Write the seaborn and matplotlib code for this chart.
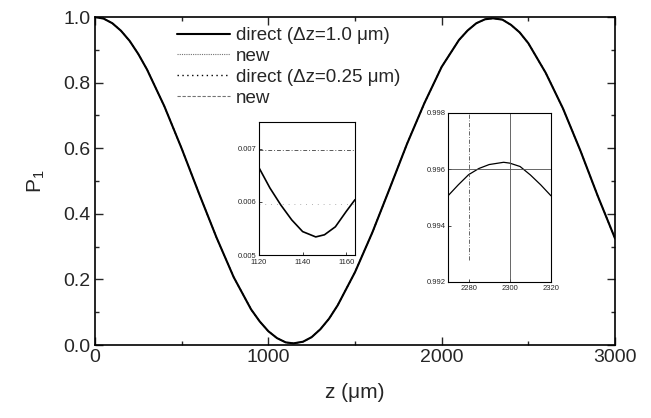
import matplotlib
matplotlib.use("Agg")
import matplotlib.pyplot as plt
import seaborn as sns
import pandas as pd

# ---- data ----
z_main = [0, 50, 100, 150, 200, 250, 300, 400, 500, 600, 700, 800, 900, 950,
          1000, 1050, 1100, 1145, 1200, 1250, 1300, 1350, 1400, 1500, 1600,
          1700, 1800, 1900, 2000, 2100, 2150, 2200, 2250, 2296, 2350, 2400,
          2450, 2500, 2600, 2700, 2800, 2900, 3000]
p_main = [1.000, 0.995, 0.981, 0.958, 0.927, 0.887, 0.840, 0.728, 0.599, 0.462,
          0.329, 0.207, 0.109, 0.072, 0.042, 0.021, 0.008, 0.005, 0.010, 0.024,
          0.048, 0.080, 0.121, 0.222, 0.343, 0.477, 0.613, 0.737, 0.848, 0.930,
          0.959, 0.981, 0.993, 0.996, 0.992, 0.976, 0.953, 0.920, 0.830, 0.721,
          0.593, 0.455, 0.325]

series_labels = ["direct (\u0394z=1.0 \u03bcm)", "new",
                 "direct (\u0394z=0.25 \u03bcm)", "new"]

# inset 1 (minimum region)
z_in1 = [1120, 1125, 1130, 1135, 1140, 1146, 1150, 1155, 1160, 1164]
p_in1 = [0.00664, 0.00626, 0.00594, 0.00566, 0.00544, 0.00534, 0.00538,
         0.00553, 0.00582, 0.00604]
in1_dashdot_level = 0.00698
in1_dotted_level = 0.00596
in1_xticks = [1120, 1140, 1160]
in1_yticks = [0.005, 0.006, 0.007]

# inset 2 (maximum region)
z_in2 = [2270, 2275, 2280, 2285, 2290, 2297, 2300, 2305, 2310, 2315, 2320]
p_in2 = [0.99506, 0.99545, 0.99581, 0.99603, 0.99617, 0.99625, 0.99622,
         0.99610, 0.99580, 0.99545, 0.99506]
in2_hline_level = 0.996
in2_vline_dashdot = 2280
in2_vline_solid = 2300
in2_xticks = [2280, 2300, 2320]
in2_yticks = [0.992, 0.994, 0.996, 0.998]

# ---- styling ----
sns.set_style("ticks")
plt.rcParams["font.family"] = ["Liberation Sans", "DejaVu Sans"]
plt.rcParams["mathtext.default"] = "regular"

fig = plt.figure(figsize=(6.51, 4.18), dpi=100)
W, H = 651, 418
ax = fig.add_axes([95 / W, 1 - 345 / H, 520 / W, 328 / H])

df_main = pd.DataFrame({"z": z_main, "P": p_main})
styles = [dict(color="black", lw=1.5, ls="-", z=5),
          dict(color="0.45", lw=0.8, ls=(0, (1, 1)), z=3),
          dict(color="black", lw=1.0, ls=(0, (1, 2.5)), z=3),
          dict(color="0.45", lw=0.8, ls=(0, (3, 1.5)), z=3)]
for lab, st in zip(series_labels, styles):
    sns.lineplot(data=df_main, x="z", y="P", ax=ax, label=lab,
                 color=st["color"], linewidth=st["lw"], linestyle=st["ls"],
                 zorder=st["z"])

ax.set_xlim(0, 3000)
ax.set_ylim(0, 1.0)
ax.set_xticks([0, 1000, 2000, 3000])
ax.set_xticks([500, 1500, 2500], minor=True)
ax.set_yticks([0.0, 0.2, 0.4, 0.6, 0.8, 1.0])
ax.set_yticks([0.1, 0.3, 0.5, 0.7, 0.9], minor=True)
ax.set_yticklabels(["0.0", "0.2", "0.4", "0.6", "0.8", "1.0"])
ax.tick_params(which="both", direction="in", top=True, right=True,
               labelsize=14, width=1.0)
ax.tick_params(which="major", length=6, pad=3)
ax.tick_params(which="minor", length=3)
for s in ax.spines.values():
    s.set_linewidth(1.2)
    s.set_color("black")
ax.set_xlabel("z (\u03bcm)", fontsize=15, labelpad=12)
ax.set_ylabel("$P_1$", fontsize=15, labelpad=12)

leg = ax.legend(loc="upper left", bbox_to_anchor=(177 / W, 1 - 27 / H),
                bbox_transform=fig.transFigure, frameon=False, fontsize=13.5,
                handlelength=2.8, handletextpad=0.35, labelspacing=0.2,
                borderpad=0, borderaxespad=0)

small_font = ["Liberation Sans Narrow", "Liberation Sans", "DejaVu Sans"]

def style_inset(a, fs):
    a.tick_params(which="both", direction="in", labelsize=fs, length=2.5,
                  width=0.6, pad=1.5)
    a.tick_params(axis="x", pad=2)
    for s in a.spines.values():
        s.set_linewidth(0.8)
        s.set_color("black")
    for t in a.get_xticklabels() + a.get_yticklabels():
        t.set_family(small_font)
    a.set_xlabel("")
    a.set_ylabel("")
    a.set_facecolor("white")

# inset 1
ax1 = fig.add_axes([259 / W, 1 - 255 / H, 96 / W, 133 / H])
sns.lineplot(x=z_in1, y=p_in1, ax=ax1, color="black", linewidth=1.2)
ax1.axhline(in1_dashdot_level, color="0.35", lw=0.7, ls=(0, (4, 2, 1, 2)))
ax1.axhline(in1_dotted_level, color="0.6", lw=0.6, ls=(0, (1, 6)))
ax1.set_xlim(1120, 1164)
ax1.set_ylim(0.005, 0.0075)
ax1.set_xticks(in1_xticks)
ax1.set_yticks(in1_yticks)
ax1.set_xticklabels([str(v) for v in in1_xticks])
ax1.set_yticklabels(["0.005", "0.006", "0.007"])
style_inset(ax1, 5.5)
ax1.tick_params(axis="x", pad=3)

# inset 2
ax2 = fig.add_axes([448 / W, 1 - 282 / H, 103 / W, 169 / H])
sns.lineplot(x=z_in2, y=p_in2, ax=ax2, color="black", linewidth=0.9)
ax2.axhline(in2_hline_level, color="0.3", lw=0.6, ls="-")
ax2.axvline(in2_vline_dashdot, ymin=0.13, ymax=1, color="0.3", lw=0.6,
            ls=(0, (5, 2, 1, 2)))
ax2.axvline(in2_vline_solid, color="0.3", lw=0.6, ls="-")
ax2.set_xlim(2270, 2320)
ax2.set_ylim(0.992, 0.998)
ax2.set_xticks(in2_xticks)
ax2.set_yticks(in2_yticks)
ax2.set_xticklabels([str(v) for v in in2_xticks])
ax2.set_yticklabels(["0.992", "0.994", "0.996", "0.998"])
style_inset(ax2, 5.5)

fig.savefig("out.png", dpi=100)
